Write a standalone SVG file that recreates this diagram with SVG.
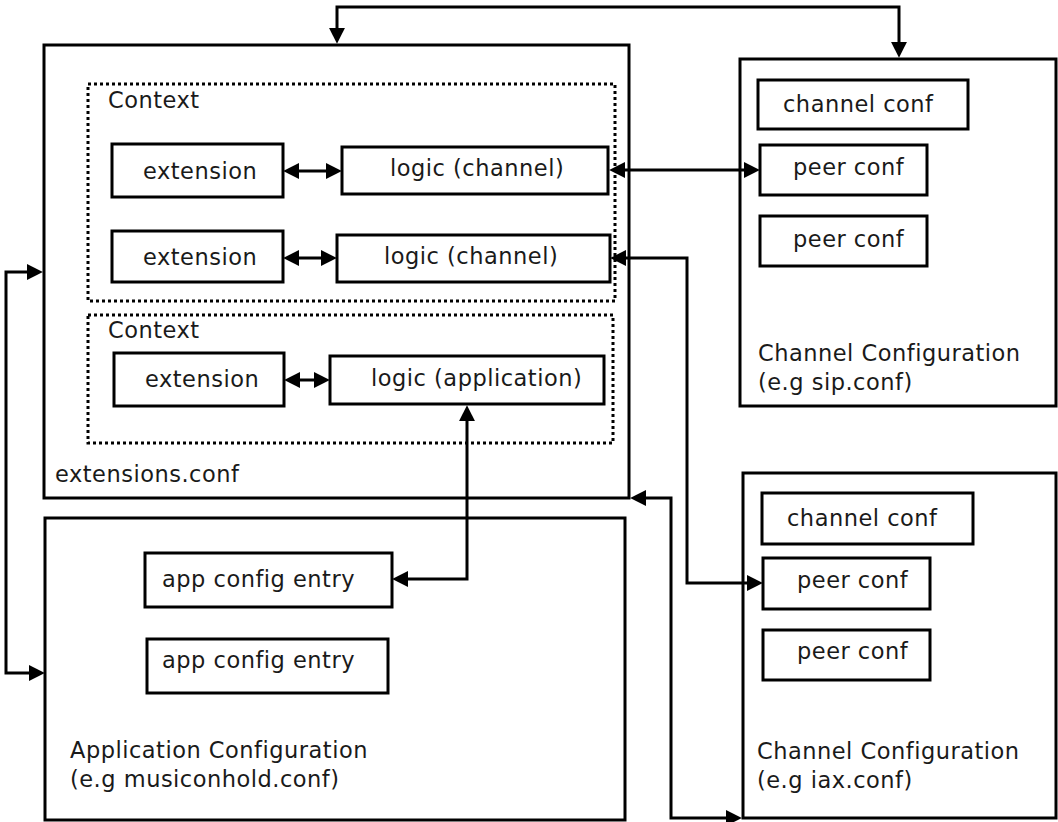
<svg xmlns="http://www.w3.org/2000/svg" width="1058" height="822" viewBox="0 0 1058 822">
<style>
.box{fill:none;stroke:#000;stroke-width:3}
.ctx{fill:none;stroke:#000;stroke-width:3;stroke-dasharray:3 3}
.lbl{font-family:"DejaVu Sans",sans-serif;font-size:22.5px;letter-spacing:0.5px;fill:#1a1a1a}
.con{fill:none;stroke:#000;stroke-width:3}
</style>
<defs>
<marker id="ah" markerUnits="userSpaceOnUse" markerWidth="16" markerHeight="16" viewBox="0 0 14 14" refX="8" refY="7" orient="auto-start-reverse">
<path d="M0,0 L14,7 L0,14 z" fill="#000"/>
</marker>
</defs>
<rect width="1058" height="822" fill="#fff"/>

<g id="extensions-conf">
<rect class="box" x="44" y="45" width="585" height="453"/>
<text class="lbl" x="55" y="482">extensions.conf</text>
</g>
<g id="context1">
<rect class="ctx" x="88" y="84" width="527" height="217"/>
<text class="lbl" x="108" y="108">Context</text>
</g>
<g id="context2">
<rect class="ctx" x="88" y="315" width="525" height="128"/>
<text class="lbl" x="108" y="338">Context</text>
</g>
<g id="ext1"><rect class="box" x="112" y="144" width="171" height="53"/><text class="lbl" x="143" y="179">extension</text></g>
<g id="logic1"><rect class="box" x="342" y="147" width="266" height="47"/><text class="lbl" x="390" y="176">logic (channel)</text></g>
<g id="ext2"><rect class="box" x="112" y="231" width="171" height="51"/><text class="lbl" x="143" y="265">extension</text></g>
<g id="logic2"><rect class="box" x="337" y="235" width="273" height="47"/><text class="lbl" x="384" y="264">logic (channel)</text></g>
<g id="ext3"><rect class="box" x="114" y="353" width="170" height="53"/><text class="lbl" x="145" y="387">extension</text></g>
<g id="logic-app"><rect class="box" x="330" y="356" width="274" height="48"/><text class="lbl" x="371" y="386">logic (application)</text></g>

<g id="sip-conf">
<rect class="box" x="740" y="59" width="316" height="347"/>
<text class="lbl" x="758" y="361">Channel Configuration</text>
<text class="lbl" x="758" y="390">(e.g sip.conf)</text>
</g>
<g id="sip-channel"><rect class="box" x="758" y="80" width="210" height="49"/><text class="lbl" x="783" y="112">channel conf</text></g>
<g id="sip-peer1"><rect class="box" x="760" y="145" width="167" height="50"/><text class="lbl" x="793" y="175">peer conf</text></g>
<g id="sip-peer2"><rect class="box" x="760" y="216" width="167" height="50"/><text class="lbl" x="793" y="247">peer conf</text></g>

<g id="iax-conf">
<rect class="box" x="743" y="473" width="313" height="345"/>
<text class="lbl" x="757" y="759">Channel Configuration</text>
<text class="lbl" x="757" y="788">(e.g iax.conf)</text>
</g>
<g id="iax-channel"><rect class="box" x="762" y="493" width="211" height="51"/><text class="lbl" x="787" y="526">channel conf</text></g>
<g id="iax-peer1"><rect class="box" x="763" y="558" width="167" height="51"/><text class="lbl" x="797" y="588">peer conf</text></g>
<g id="iax-peer2"><rect class="box" x="763" y="630" width="167" height="50"/><text class="lbl" x="797" y="659">peer conf</text></g>

<g id="app-conf">
<rect class="box" x="45" y="518" width="580" height="302"/>
<text class="lbl" x="70" y="758">Application Configuration</text>
<text class="lbl" x="70" y="787">(e.g musiconhold.conf)</text>
</g>
<g id="app-entry1"><rect class="box" x="145" y="553" width="247" height="54"/><text class="lbl" x="162" y="587">app config entry</text></g>
<g id="app-entry2"><rect class="box" x="147" y="639" width="241" height="54"/><text class="lbl" x="162" y="668">app config entry</text></g>

<g id="connectors">
<path class="con" d="M337,37 V7 H899 V51" marker-start="url(#ah)" marker-end="url(#ah)"/>
<path class="con" d="M36,272 H6 V673 H38" marker-start="url(#ah)" marker-end="url(#ah)"/>
<path class="con" d="M290,171 H335" marker-start="url(#ah)" marker-end="url(#ah)"/>
<path class="con" d="M290,258 H330" marker-start="url(#ah)" marker-end="url(#ah)"/>
<path class="con" d="M291,380 H323" marker-start="url(#ah)" marker-end="url(#ah)"/>
<path class="con" d="M616,170 H753" marker-start="url(#ah)" marker-end="url(#ah)"/>
<path class="con" d="M617,258 H687 V583 H756" marker-start="url(#ah)" marker-end="url(#ah)"/>
<path class="con" d="M637,498 H671 V818 H735" marker-start="url(#ah)" marker-end="url(#ah)"/>
<path class="con" d="M467,412 V579 H399" marker-start="url(#ah)" marker-end="url(#ah)"/>
</g>
</svg>
